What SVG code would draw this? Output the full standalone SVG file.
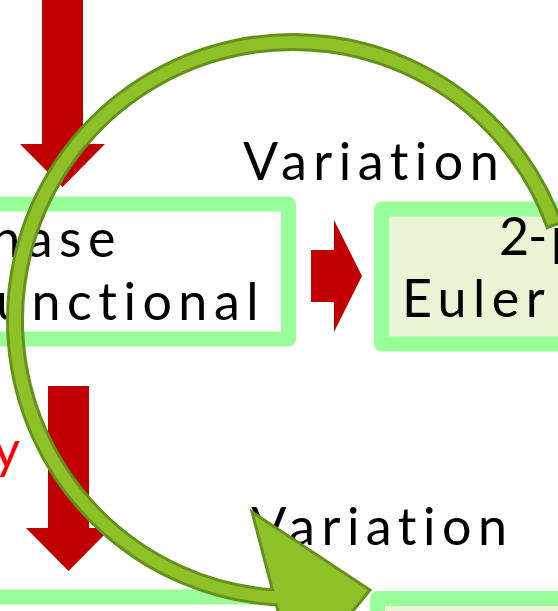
<svg xmlns="http://www.w3.org/2000/svg" width="558" height="611" viewBox="0 0 558 611">
  <style>
    .box { stroke: #99FF99; stroke-width: 15; stroke-linejoin: round; }
    .plain { fill: #FFFFFF; }
    .tinted { fill: #E9F5D4; }
    .label { font-family: Lato, "Liberation Sans", sans-serif; font-size: 52px; letter-spacing: 6.5px; fill: #000000; }
    .red { fill: #FF0000; }
    .block-arrow { fill: #C00000; }
    .cycle { fill: #8EC127; stroke: #66901C; stroke-width: 3; stroke-linejoin: miter; }
  </style>

  <rect width="558" height="611" fill="#FFFFFF"/>

  <!-- phase-space functional -->
  <g id="box-functional">
    <rect class="box plain" x="-60" y="204" width="348.5" height="135"/>
    <text class="label" x="122" y="257" text-anchor="end">hase</text>
    <text class="label" x="265" y="320" text-anchor="end">unctional</text>
  </g>

  <!-- two-particle Euler equations -->
  <g id="box-euler">
    <rect class="box tinted" x="381.5" y="209" width="260" height="135"/>
    <text class="label" x="499" y="255">2<tspan x="528">-</tspan><tspan x="551">p</tspan></text>
    <text class="label" x="402" y="317">Euler</text>
  </g>

  <!-- lower row -->
  <g id="box-lower-left">
    <rect class="box plain" x="-60" y="597" width="348.5" height="80"/>
  </g>
  <g id="box-lower-right">
    <rect class="box tinted" x="377.5" y="598.5" width="260" height="80"/>
  </g>

  <!-- step labels -->
  <g id="labels">
    <text class="label" x="243" y="180">Variation</text>
    <text class="label" x="513.5" y="545" text-anchor="end">Variation</text>
    <text class="label red" x="26.5" y="468" text-anchor="end">y</text>
  </g>

  <!-- connectors -->
  <g id="connectors">
    <polygon class="block-arrow" points="42,-5 83,-5 83,144 105,144 62.5,187 20,144 42,144"/>
    <polygon class="block-arrow" points="48,386 89,386 89,528 111,528 68.5,571 26,528 48,528"/>
    <polygon class="block-arrow" points="311,250 334,250 334,220 362,276 334,332 334,302 311,302"/>
    <path class="cycle" d="M547.2,227.5 L561.3,222.4 A285.5,285.5 0 1 0 276.4,605 L296,681 L370,590 L252,512 L272.4,589.7 A270.5,270.5 0 1 1 547.2,227.5 Z"/>
  </g>
</svg>
